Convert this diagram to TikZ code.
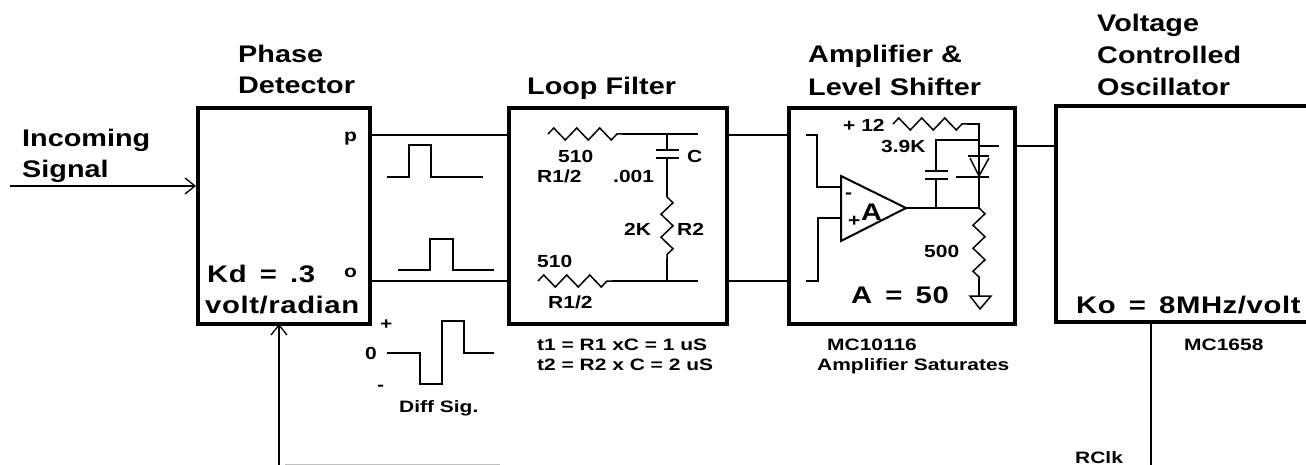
\documentclass[tikz,border=0pt]{standalone}
\usepackage{fontspec}
\setmainfont{Liberation Sans}[BoldFont={Liberation Sans Bold}]
\newfontface\wf[FakeStretch=1.2]{Liberation Sans Bold}
\newfontface\wfb[FakeStretch=1.22,LetterSpace=2.5,WordSpace=1.5]{Liberation Sans Bold}
\newfontface\wfs[FakeStretch=1.27]{Liberation Sans Bold}
\usetikzlibrary{decorations.pathmorphing,arrows.meta,calc}
\tikzset{
  x=1pt,y=-1pt,
  blockbox/.style={draw=black,line width=4pt,fill=white,inner sep=0pt,anchor=north west},
  wire/.style={draw=black,line width=1.8pt},
  thinwire/.style={draw=black,line width=1.5pt},
  sigarrow/.style={draw=black,line width=1.5pt,-{Straight Barb[length=10pt,width=16pt,line width=1.3pt]}},
  res/.style={draw=black,line width=1.5pt,decorate,decoration={zigzag,segment length=23pt,amplitude=6pt}},
  title/.style={anchor=base west,inner sep=0pt,font=\fontsize{24}{26}\wf},
  big/.style={anchor=base west,inner sep=0pt,font=\fontsize{24}{26}\wfb},
  mid/.style={anchor=base west,inner sep=0pt,font=\fontsize{17.5}{19}\wf},
  small/.style={anchor=base west,inner sep=0pt,font=\fontsize{16.5}{18}\wfs},
}
\begin{document}
\begin{tikzpicture}
\useasboundingbox (0,0) rectangle (1306,465);
% blocks
\node[blockbox,minimum width=172pt,minimum height=216pt] (pd) at (196,106) {};
\node[blockbox,minimum width=218pt,minimum height=216pt] (lf) at (507,106) {};
\node[blockbox,minimum width=226pt,minimum height=216pt] (amp) at (787,106) {};
\draw[line width=4pt] (1310,106) -- (1056,106) -- (1056,322) -- (1310,322);
\coordinate (vcoT) at (1056,146);
\coordinate (vcoB) at (1151,322);
% titles
\node[title] (t1) at (238,63) {Phase};
\node[title] (t2) at (238,94) {Detector};
\node[title] (t3) at (22,147) {Incoming};
\node[title] (t4) at (22,178) {Signal};
\node[title] (t5) at (527,95) {Loop Filter};
\node[title] (t6) at (808,63) {Amplifier \&};
\node[title] (t7) at (808,96) {Level Shifter};
\node[title] (t8) at (1097,32) {Voltage};
\node[title] (t9) at (1097,64) {Controlled};
\node[title] (t10) at (1097,96) {Oscillator};
% external
\coordinate (inS) at (10,186);
\coordinate (inE) at (196,186);
\draw[sigarrow] (inS) -- (inE);
\coordinate (fb) at (279,465);
\coordinate (fbE) at (279,324);
\draw[sigarrow] (fb) -- (fbE);
\coordinate (rclk) at (1151,465);
\draw[thinwire] (vcoB) -- (rclk);
\coordinate (fbg) at (285,464);
\coordinate (fbg2) at (500,464);
\draw[gray!50,line width=1pt] (fbg) -- (fbg2);
% connections between blocks
\coordinate (p1) at (368,135); \coordinate (p2) at (507,135);
\coordinate (o1) at (368,281); \coordinate (o2) at (507,281);
\draw[thinwire] (p1) -- (p2);
\draw[thinwire] (o1) -- (o2);
\coordinate (q1) at (725,135); \coordinate (q2) at (787,135);
\coordinate (s1) at (725,281); \coordinate (s2) at (787,281);
\draw[thinwire] (q1) -- (q2);
\draw[thinwire] (s1) -- (s2);
\coordinate (ao) at (1013,146);
\draw[thinwire] (ao) -- (vcoT);
% pd labels
\node[mid] (lp) at (344,142) {p};
\node[mid] (lo) at (344,277) {o};
\node[big] (kd) at (207,282) {Kd = .3};
\node[big] (vr) at (205,313) {volt/radian};
% waveforms
\draw[wire] (387,177) -- (409,177) -- (409,145) -- (431,145) -- (431,177) -- (483,177);
\draw[wire] (398,270) -- (430,270) -- (430,239) -- (453,239) -- (453,270) -- (494,270);
\draw[wire] (387,353) -- (420,353) -- (420,384) -- (442,384) -- (442,321) -- (464,321) -- (464,353) -- (494,353);
\node[small] (plus) at (380,329) {+};
\node[mid] (zero) at (365,359) {0};
\node[small] (minus) at (377,390) {-};
\node[small] (ds) at (399,412) {Diff Sig.};
% loop filter
\coordinate (r1a) at (548,134); \coordinate (r1b) at (622,134); \coordinate (r1c) at (698,134);
\coordinate (r3a) at (538,281); \coordinate (r3b) at (612,281); \coordinate (r3c) at (698,281);
\coordinate (j1) at (667,134); \coordinate (j2) at (667,281);
\coordinate (c1) at (667,150); \coordinate (c2) at (667,158);
\coordinate (r2a) at (667,197); \coordinate (r2b) at (667,258);
\draw[res] (r1a) -- (r1b);
\draw[wire] (r1b) -- (r1c);
\draw[res] (r3a) -- (r3b);
\draw[wire] (r3b) -- (r3c);
\draw[wire] (j1) -- (c1);
\draw[wire] (c2) -- (r2a);
\draw[wire] (r2b) -- (j2);
\draw[res] (r2a) -- (r2b);
\draw[wire] (656,150) -- (679,150);
\draw[wire] (656,158) -- (679,158);
\node[mid] (a1) at (558,163) {510};
\node[mid] (a2) at (537,183) {R1/2};
\node[mid] (a3) at (613,183) {.001};
\node[mid] (a4) at (687,163) {C};
\node[mid] (a5) at (624,236) {2K};
\node[mid] (a6) at (677,236) {R2};
\node[mid] (a7) at (537,267) {510};
\node[mid] (a8) at (548,308) {R1/2};
\node[small] (f1) at (537,350) {t1 = R1 xC = 1 uS};
\node[small] (f2) at (537,370) {t2 = R2 x C = 2 uS};
% amplifier
\coordinate (in1) at (806,135); \coordinate (in2) at (806,281);
\draw[thinwire] (in1) -- (817,135) -- (817,187) -- (841,187);
\draw[thinwire] (in2) -- (818,281) -- (818,218) -- (841,218);
\draw[line width=2pt,line join=miter] (841,176) -- (906,208) -- (841,241) -- cycle;
\coordinate (n1) at (906,208); \coordinate (n2) at (936,208); \coordinate (n3) at (979,208);
\draw[thinwire] (n1) -- (n3);
\draw[thinwire] (n2) -- (936,179);
\draw[wire] (925,179) -- (948,179);
\draw[wire] (925,171) -- (948,171);
\draw[thinwire] (936,171) -- (936,140) -- (979,140);
\coordinate (r4a) at (893,124); \coordinate (r4b) at (967,124);
\draw[res] (r4a) -- (r4b);
\draw[thinwire] (r4b) -- (979,124) -- (979,156);
\draw[thinwire] (979,146) -- (999,146);
\draw[wire] (968,156) -- (989,156);
\draw[thinwire] (970,158) -- (979,176) -- (989,158);
\draw[wire] (956,177) -- (989,177);
\draw[thinwire] (979,156) -- (979,177) -- (n3);
\coordinate (r5b) at (979,279);
\draw[res] (n3) -- (r5b);
\draw[thinwire] (r5b) -- (979,296);
\draw[line width=1.5pt] (970,296) -- (991,296) -- (980,309) -- cycle;
\node[mid] (b1) at (843,132) {+ 12};
\node[mid] (b2) at (881,153) {3.9K};
\node[mid] (b3) at (924,257) {500};
\node[big] (b4) at (851,303) {A = 50};
\node[title] (b5) at (861,220) {A};
\node[mid] (b6) at (845,199) {-};
\node[mid] (b7) at (848,226) {+};
\node[small] (b8) at (827,350) {MC10116};
\node[small] (b9) at (817,370) {Amplifier Saturates};
% vco
\node[big] (ko) at (1076,313) {Ko = 8MHz/volt};
\node[small] (m1) at (1184,350) {MC1658};
\node[small] (m2) at (1075,463) {RClk};
\end{tikzpicture}
\end{document}
